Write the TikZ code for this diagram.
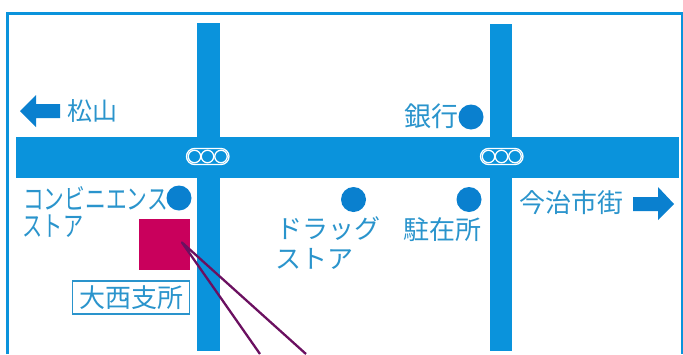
\documentclass[tikz,border=0pt]{standalone}
\usepackage{fontspec}
\setmainfont{Noto Sans CJK JP}[Scale=1]
\definecolor{road}{HTML}{0A93DC}
\definecolor{dotblue}{HTML}{0A80CF}
\definecolor{txt}{HTML}{2A94CC}
\definecolor{pink}{HTML}{C9005C}
\definecolor{wine}{HTML}{6B1060}
\tikzset{
  roadbar/.style={fill=road,draw=none},
  signalbox/.style={draw=white,line width=1.3pt,rounded corners=8pt},
  lamp/.style={circle,draw=white,line width=1.3pt,minimum size=12.5pt,inner sep=0pt},
  poi/.style={circle,fill=dotblue,minimum size=25pt,inner sep=0pt},
  lbl/.style={text=txt,font=\fontsize{26}{28}\selectfont,inner sep=0pt,align=left},
  dirarrow/.style={fill=dotblue,draw=none},
  leader/.style={draw=wine,line width=2.3pt,line join=round}
}
\begin{document}
\begin{tikzpicture}[x=1pt,y=-1pt]
\useasboundingbox (0,0) rectangle (683,354);
\draw[road,line width=3pt] (7.5,354) -- (7.5,13.3) -- (682,13.3) -- (682,354);
% roads
\fill[roadbar] (196.5,23) rectangle (220,351);
\fill[roadbar] (489.5,24) rectangle (511.5,351);
\fill[roadbar] (16,137) rectangle (679,178);
% signals
\draw[signalbox] (186.5,148.5) rectangle (229,164.5);
\node[lamp] (s1) at (194.5,156.5) {};
\node[lamp] (s2) at (207.5,156.5) {};
\node[lamp] (s3) at (221,156.5) {};
\draw[signalbox] (480.5,148.5) rectangle (523,164.5);
\node[lamp] (s4) at (488.5,156.5) {};
\node[lamp] (s5) at (501.5,156.5) {};
\node[lamp] (s6) at (515,156.5) {};
% points of interest
\node[poi] (conv) at (179,198) {};
\node[poi] (bank) at (471,117) {};
\node[poi] (drug) at (353.5,199.5) {};
\node[poi] (post) at (469,199.5) {};
% arrows
\fill[dirarrow] (20,111) -- (36,95) -- (36,104) -- (60,104) -- (60,118) -- (36,118) -- (36,127) -- cycle;
\fill[dirarrow] (674,204) -- (658,187) -- (658,197) -- (633,197) -- (633,211) -- (658,211) -- (658,220) -- cycle;
% labels
\node[lbl,anchor=west,font=\fontsize{25}{27}\selectfont] (matsuyama) at (67,111) {松山};
\node[lbl,anchor=west,font=\fontsize{27}{29}\selectfont] (ginko) at (404.5,116) {銀行};
\node[lbl,anchor=west] (imabari) at (519.5,203) {今治市街};
\node[lbl,anchor=west] (chuzai) at (403,230) {駐在所};
\node[lbl,anchor=west] (drugl) at (276,229) {ドラッグ};
\node[lbl,anchor=west] (drugl2) at (275,259) {ストア};
\node[lbl,anchor=west,font=\fontsize{28}{30}\selectfont] (convl) at (23,198) {\scalebox{0.74}[1]{コンビニエンス}};
\node[lbl,anchor=west,font=\fontsize{28}{30}\selectfont] (convl2) at (22.5,226) {\scalebox{0.72}[1]{ストア}};
% office
\node[fill=pink,minimum width=50.5pt,minimum height=51pt,inner sep=0pt] (office) at (164.7,244.5) {};
\node[draw=txt,line width=1.5pt,text=txt,font=\fontsize{26}{28}\selectfont,minimum width=117pt,minimum height=33pt,inner sep=0pt] (onishi) at (131.2,297.5) {大西支所};
% leaders
\coordinate (tip) at (182,242.5);
\coordinate (endA) at (260,354);
\coordinate (endB) at (306,354);
\draw[leader] (endA) -- (tip) -- (endB);
\end{tikzpicture}
\end{document}
